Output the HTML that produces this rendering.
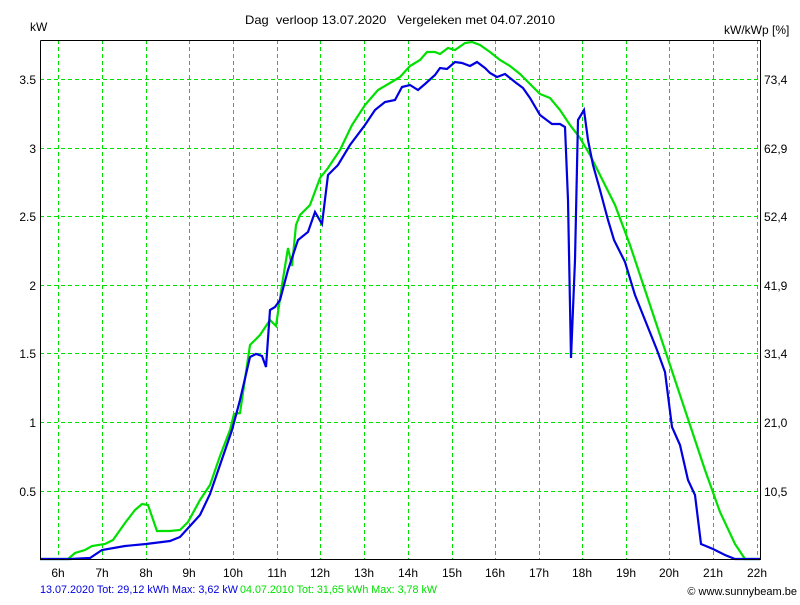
<!DOCTYPE html>
<html><head><meta charset="utf-8"><style>
body{margin:0;background:#fff;}
svg text{font-family:"Liberation Sans",Arial,sans-serif;font-size:12px;fill:#000;white-space:pre;}
</style></head><body>
<svg width="800" height="600" viewBox="0 0 800 600" xmlns="http://www.w3.org/2000/svg">
<rect width="800" height="600" fill="#fff"/>
<g stroke="#00e000" stroke-width="1" stroke-dasharray="4,3">
<line x1="58.5" y1="40" x2="58.5" y2="559"/><line x1="102.5" y1="40" x2="102.5" y2="559"/>
<line x1="146.5" y1="40" x2="146.5" y2="559"/><line x1="189.5" y1="40" x2="189.5" y2="559"/>
<line x1="233.5" y1="40" x2="233.5" y2="559"/><line x1="277.5" y1="40" x2="277.5" y2="559"/>
<line x1="320.5" y1="40" x2="320.5" y2="559"/><line x1="364.5" y1="40" x2="364.5" y2="559"/>
<line x1="408.5" y1="40" x2="408.5" y2="559"/><line x1="452.5" y1="40" x2="452.5" y2="559"/>
<line x1="495.5" y1="40" x2="495.5" y2="559"/><line x1="539.5" y1="40" x2="539.5" y2="559"/>
<line x1="582.5" y1="40" x2="582.5" y2="559"/><line x1="626.5" y1="40" x2="626.5" y2="559"/>
<line x1="669.5" y1="40" x2="669.5" y2="559"/><line x1="713.5" y1="40" x2="713.5" y2="559"/>
<line x1="757.5" y1="40" x2="757.5" y2="559"/>
<line x1="40" y1="79.5" x2="760" y2="79.5"/><line x1="40" y1="148.5" x2="760" y2="148.5"/>
<line x1="40" y1="216.5" x2="760" y2="216.5"/><line x1="40" y1="285.5" x2="760" y2="285.5"/>
<line x1="40" y1="353.5" x2="760" y2="353.5"/><line x1="40" y1="422.5" x2="760" y2="422.5"/>
<line x1="40" y1="491.5" x2="760" y2="491.5"/>
</g>
<polyline fill="none" stroke="#00e000" stroke-width="2.2" points="40,559 68,559 75,553 85,550 92,546 105,544 113,540 125,523 135,510 142,504 148,505 157,531 170,531 180,530 188,522 200,500 210,485 220,456 230,430 234,414 240,413 250,345 260,335 270,320 276,326 282,285 288,248 292,266 296,225 300,215 310,205 320,178 328,168 340,150 352,125 365,105 378,90 390,83 400,77 410,66 420,60 427,52 435,52 440,54 448,48 455,50 465,43 472,42 480,45 490,52 500,60 510,66 520,74 530,84 540,94 550,98 560,110 570,125 580,138 590,155 600,175 615,205 630,245 645,290 660,335 675,380 690,425 705,470 720,512 735,544 745,559 760,559"/>
<polyline fill="none" stroke="#0000e0" stroke-width="2.2" points="40,559 70,559 90,558 102,550 125,546 146,544 170,541 180,537 190,526 200,515 210,494 220,465 232,430 240,400 250,357 256,354 262,356 266,367 270,310 275,307 280,300 288,270 298,240 308,232 315,212 322,224 328,175 338,165 350,145 365,125 375,110 385,102 395,100 402,87 410,85 418,90 425,84 435,75 440,68 447,69 455,62 462,63 470,66 477,62 485,68 490,73 497,77 505,74 515,82 523,88 530,98 540,115 552,124 560,124 565,127 568,200 571,358 575,260 578,120 584,110 588,140 593,165 600,190 608,220 614,240 625,262 635,295 645,320 657,350 665,372 672,427 680,445 688,480 695,495 701,544 713,549 725,555 735,559 760,559"/>
<polyline fill="none" stroke="#000" stroke-width="1" points="40.5,40.5 40.5,559.5 760.5,559.5 760.5,40.5 40.5,40.5"/>
<text x="30" y="31">kW</text>
<text x="245" y="24" textLength="310" lengthAdjust="spacingAndGlyphs">Dag  verloop 13.07.2020   Vergeleken met 04.07.2010</text>
<text x="724" y="34">kW/kWp [%]</text>
<g text-anchor="end">
<text x="36" y="84">3.5</text><text x="36" y="153">3</text><text x="36" y="221">2.5</text>
<text x="36" y="290">2</text><text x="36" y="358">1.5</text><text x="36" y="427">1</text><text x="36" y="496">0.5</text>
</g>
<g>
<text x="764" y="84">73,4</text><text x="764" y="153">62,9</text><text x="764" y="221">52,4</text>
<text x="764" y="290">41,9</text><text x="764" y="358">31,4</text><text x="764" y="427">21,0</text><text x="764" y="496">10,5</text>
</g>
<g text-anchor="middle">
<text x="58" y="577">6h</text><text x="102" y="577">7h</text><text x="146" y="577">8h</text><text x="189" y="577">9h</text>
<text x="233" y="577">10h</text><text x="277" y="577">11h</text><text x="320" y="577">12h</text><text x="364" y="577">13h</text>
<text x="408" y="577">14h</text><text x="452" y="577">15h</text><text x="495" y="577">16h</text><text x="539" y="577">17h</text>
<text x="582" y="577">18h</text><text x="626" y="577">19h</text><text x="669" y="577">20h</text><text x="713" y="577">21h</text>
<text x="757" y="577">22h</text>
</g>
<text x="40" y="593" textLength="198" lengthAdjust="spacingAndGlyphs" style="font-size:11px;fill:#0000e0">13.07.2020 Tot: 29,12 kWh Max: 3,62 kW</text>
<text x="240" y="593" textLength="197" lengthAdjust="spacingAndGlyphs" style="font-size:11px;fill:#00e000">04.07.2010 Tot: 31,65 kWh Max: 3,78 kW</text>
<text x="797" y="595" text-anchor="end" style="font-size:11px">© www.sunnybeam.be</text>
</svg>
</body></html>
